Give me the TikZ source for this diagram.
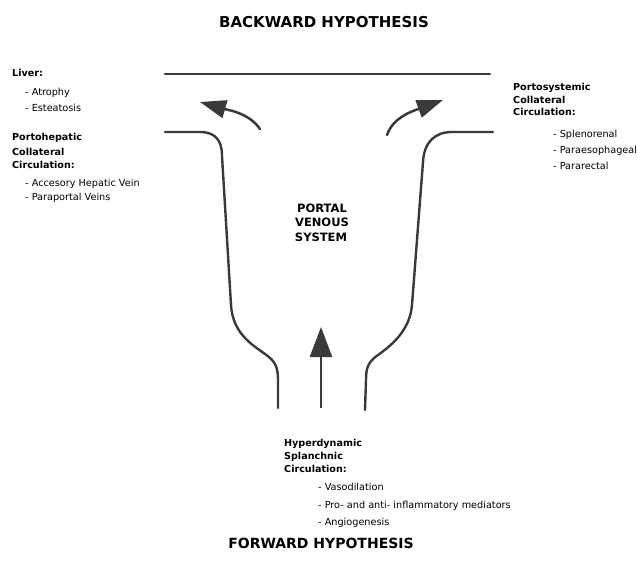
\documentclass[tikz,border=0pt]{standalone}
\usepackage{fontspec}
\setmainfont{DejaVu Sans}
\usetikzlibrary{arrows.meta}
\definecolor{ink}{HTML}{3A3A3A}
\tikzset{
  pipe/.style={draw=ink, line width=2.4pt, line cap=round, line join=round},
  flow/.style={draw=ink, line width=2.5pt, line cap=round, -{Triangle[length=26pt,width=18pt]}},
  head/.style={inner sep=0pt, anchor=base west, font=\bfseries\fontsize{9.6}{11}\selectfont},
  item/.style={inner sep=0pt, anchor=base west, font=\fontsize{9.7}{11}\selectfont},
  title/.style={inner sep=0pt, anchor=base, font=\bfseries\fontsize{15}{17}\selectfont},
  mid/.style={inner sep=0pt, anchor=base, font=\bfseries\fontsize{11.5}{13}\selectfont},
}
\begin{document}
\begin{tikzpicture}[x=1pt, y=-1pt]
\useasboundingbox[fill=white] (0,0) rectangle (637,575);
% titles
\node[title] (tback) at (324,28) {BACKWARD HYPOTHESIS};
\node[title, font=\bfseries\fontsize{14}{16}\selectfont] (tfwd) at (321,548.5) {FORWARD HYPOTHESIS};
% top line
\coordinate (tl1) at (165,74);
\coordinate (tl2) at (490,74);
\draw[pipe] (tl1) -- (tl2);
% left pipe
\draw[pipe] (165,132) -- (200,132) .. controls (215,132) and (222,140) .. (222,156)
  -- (231,305) .. controls (233,336) and (255,346) .. (269,357)
  .. controls (277,364) and (278,370) .. (278,382) -- (278,408);
% right pipe
\draw[pipe] (493,132) -- (452,132) .. controls (435,132) and (424,142) .. (423,162)
  -- (412,305) .. controls (410,330) and (392,345) .. (378,355)
  .. controls (368,362) and (366,368) .. (366,380) -- (365,410);
% arrows
\coordinate (la0) at (260,129);
\coordinate (la1) at (200,102);
\draw[flow] (la0) .. controls (249,113) and (228,110) .. (la1);
\coordinate (ra0) at (387,135);
\coordinate (ra1) at (443,100);
\draw[flow] (ra0) .. controls (393,118) and (410,112) .. (ra1);
\coordinate (ua0) at (321,408);
\coordinate (ua1) at (321,327);
\draw[flow, line cap=butt, -{Triangle[length=30pt,width=22pt]}] (ua0) -- (ua1);
% left text
\node[head] (liver) at (12,77) {Liver:};
\node[item] (atro) at (25,95.5) {- Atrophy};
\node[item] (este) at (25,111.5) {- Esteatosis};
\node[head] (ph1) at (12,141) {Portohepatic};
\node[head] (ph2) at (12,155) {Collateral};
\node[head] (ph3) at (12,168.5) {Circulation:};
\node[item] (ahv) at (25,186.5) {- Accesory Hepatic Vein};
\node[item] (ppv) at (25,200.5) {- Paraportal Veins};
% right text
\node[head] (ps1) at (513,91) {Portosystemic};
\node[head] (ps2) at (513,103.5) {Collateral};
\node[head] (ps3) at (513,116) {Circulation:};
\node[item] (spl) at (553,137.5) {- Splenorenal};
\node[item] (pae) at (553,153.5) {- Paraesophageal};
\node[item] (par) at (553,169.5) {- Pararectal};
% center text
\node[mid] (pv1) at (322,212) {PORTAL};
\node[mid] (pv2) at (322,226.5) {VENOUS};
\node[mid] (pv3) at (321,241) {SYSTEM};
% bottom text
\node[head] (hs1) at (284,446) {Hyperdynamic};
\node[head] (hs2) at (284,459) {Splanchnic};
\node[head] (hs3) at (284,472) {Circulation:};
\node[item] (vas) at (318,490.5) {- Vasodilation};
\node[item] (pro) at (318,508.5) {- Pro- and anti- inflammatory mediators};
\node[item] (ang) at (318,525.5) {- Angiogenesis};
\end{tikzpicture}
\end{document}
